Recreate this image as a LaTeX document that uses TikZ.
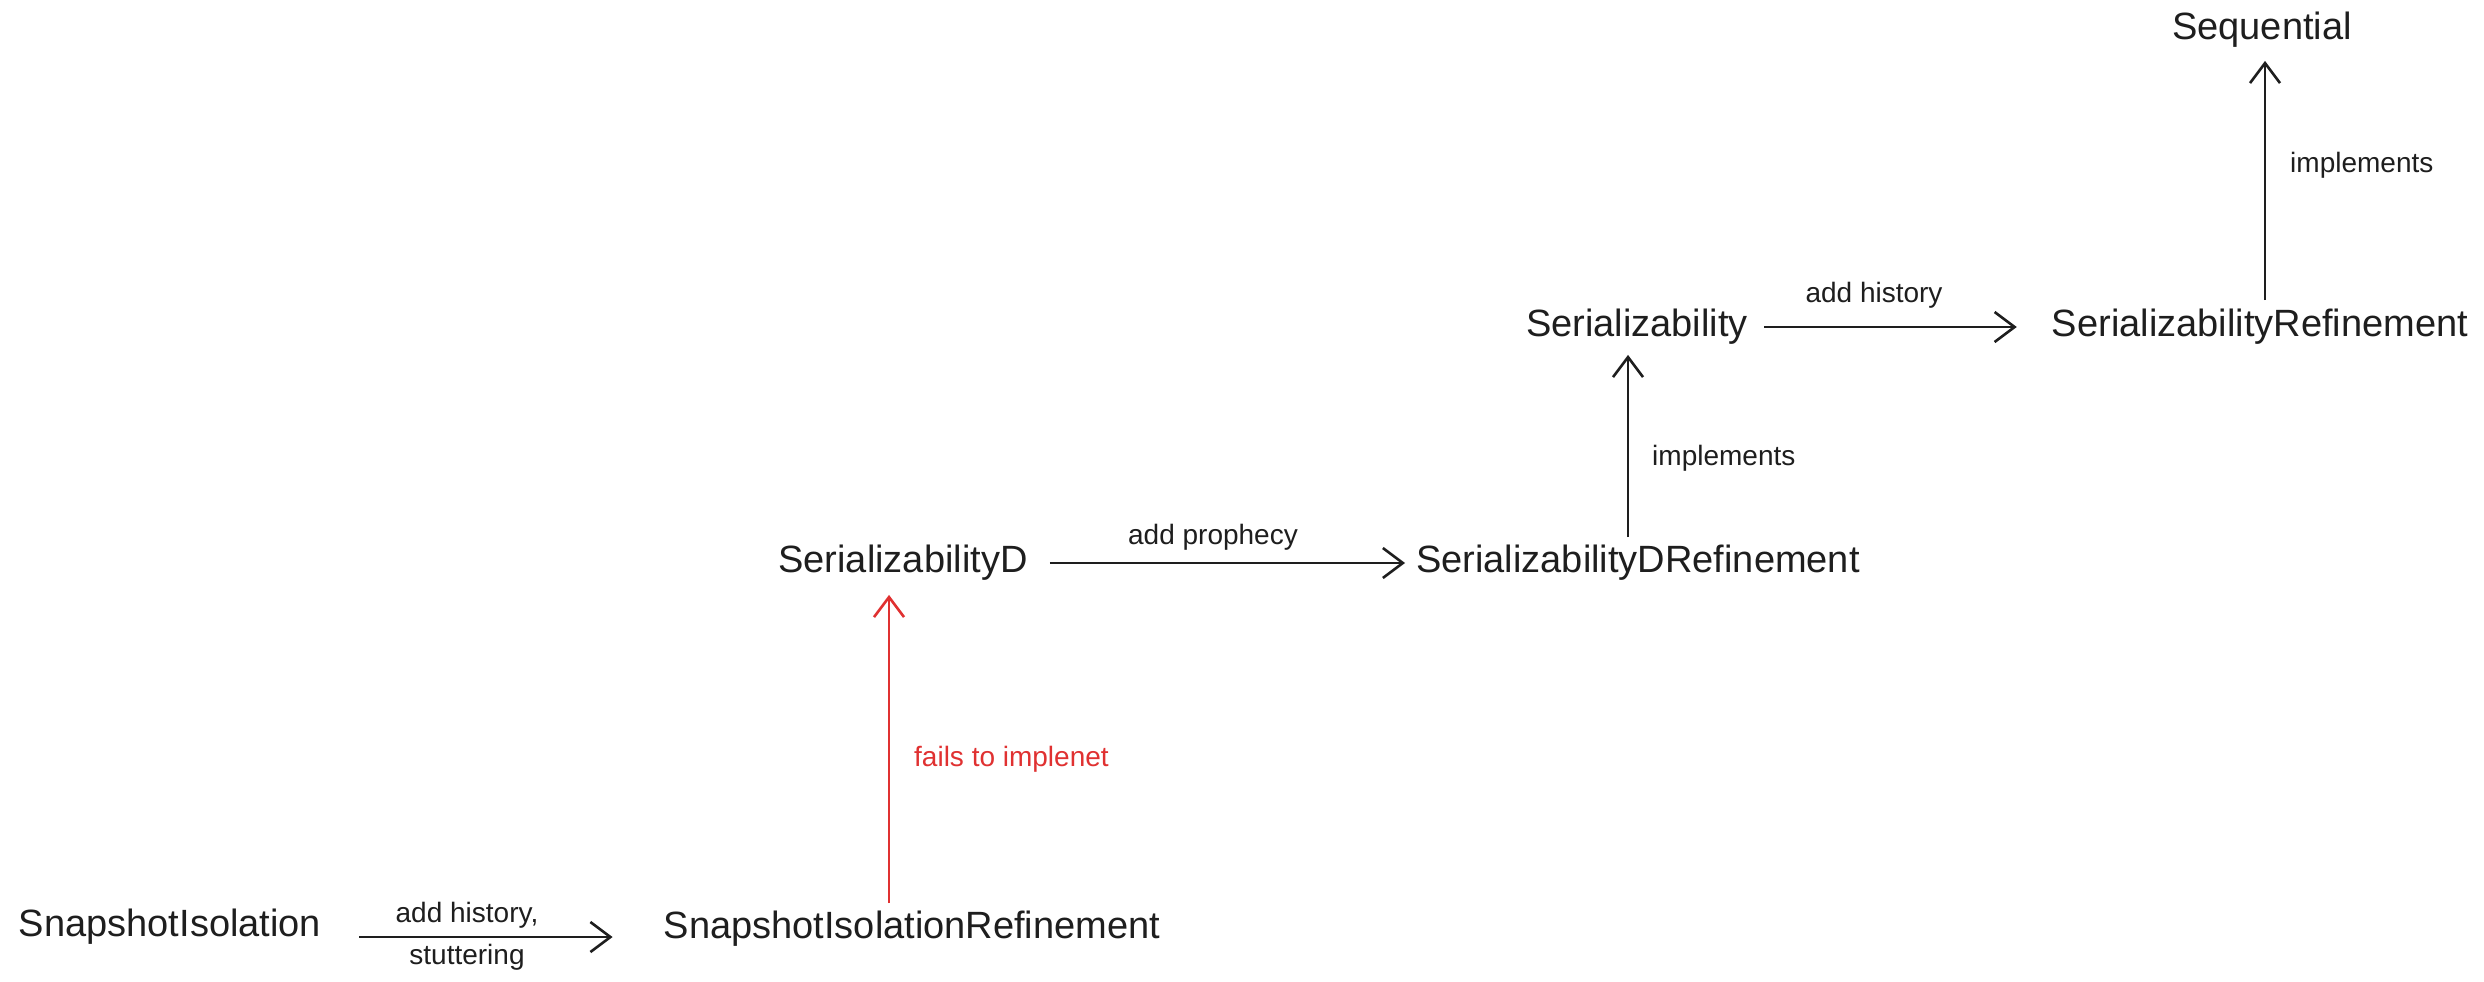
\documentclass[tikz,border=0pt]{standalone}
\usepackage{fontspec}
\setmainfont{Liberation Sans}
\usetikzlibrary{arrows.meta}
\definecolor{ink}{HTML}{1E1E1E}
\definecolor{redink}{HTML}{E03131}
\tikzset{
  state/.style={inner sep=0pt, text=ink, font=\fontsize{38}{40}\selectfont},
  lbl/.style={inner sep=0pt, text=ink, font=\fontsize{28}{30}\selectfont},
  arr/.style={draw=ink, line width=2.6pt, -{Straight Barb[length=20pt,width=30pt,line width=2.6pt]}},
}
\begin{document}
\begin{tikzpicture}[x=1pt,y=-1pt]
\useasboundingbox[fill=white] (0,0) rectangle (2484,982);
% nodes
\node[state] (si)  at (170,927) {SnapshotIsolation};
\node[state] (sir) at (912,929) {SnapshotIsolationRefinement};
\node[state] (sd)  at (903,563) {SerializabilityD};
\node[state] (sdr) at (1638,563) {SerializabilityDRefinement};
\node[state] (s)   at (1637,327) {Serializability};
\node[state] (sr)  at (2260,327) {SerializabilityRefinement};
\node[state] (seq) at (2262,30) {Sequential};
% connectors
\draw[arr, shorten <=38pt, shorten >=51pt] ([yshift=-10pt]si.east) -- ([yshift=-10pt]si.east -| sir.west);
\node[lbl] at (467,915) {add history,};
\node[lbl] at (467,957) {stuttering};
\draw[arr, draw=redink, -{Straight Barb[length=20pt,width=30pt,line width=2.6pt]}, shorten <=8pt, shorten >=14pt]
  ([xshift=-23pt]sir.north) -- ([xshift=-23pt]sir.north |- sd.south);
\node[lbl, text=redink, anchor=west] at (914,759) {fails to implenet};
\draw[arr, shorten <=22pt, shorten >=11pt] (sd.east) -- (sdr.west);
\node[lbl] at (1213,537) {add prophecy};
\draw[arr, shorten <=8pt, shorten >=10pt] ([xshift=-10pt]sdr.north) -- ([xshift=-10pt]sdr.north |- s.south);
\node[lbl, anchor=west] at (1652,458) {implements};
\draw[arr, shorten <=16pt, shorten >=35pt] (s.east) -- (sr.west);
\node[lbl] at (1874,295) {add history};
\draw[arr, shorten <=9pt, shorten >=13pt] ([xshift=5pt]sr.north) -- ([xshift=5pt]sr.north |- seq.south);
\node[lbl, anchor=west] at (2290,165) {implements};
\end{tikzpicture}
\end{document}
